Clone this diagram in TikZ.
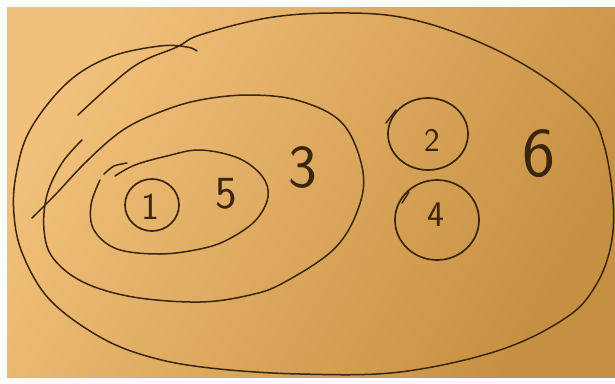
\documentclass[tikz,border=0pt]{standalone}
\usetikzlibrary{shapes.geometric}
\definecolor{ink}{HTML}{3A250E}
\definecolor{paperA}{HTML}{F1C07A}
\definecolor{paperB}{HTML}{C69042}
\tikzset{
  pen/.style={draw=ink, line width=1.5pt, line cap=round, line join=round},
  ring/.style={ellipse, draw=ink, line width=1.7pt, inner sep=0pt},
  digit/.style={text=ink, inner sep=0pt, font=\sffamily},
}
\begin{document}
\begin{tikzpicture}[x=1pt,y=-1pt]
\useasboundingbox (0,0) rectangle (615,383);
\fill[white] (0,0) rectangle (615,383);
\shade[left color=paperA, right color=paperB, shading angle=60] (7,7) rectangle (615,377);
% outer shape (set 6)
\draw[pen] plot[smooth, tension=0.6] coordinates {(197,51) (187,47) (160,46) (110,57) (67,83) (30,130) (16,175) (14,215) (23,255) (50,300) (100,337) (150,357) (210,368) (300,374) (400,372) (500,350) (567,317) (596,285) (611,245) (613,200) (604,145) (587,112) (533,70) (467,37) (400,17) (333,13) (267,18) (200,35) (177,47) (133,67) (78,115)};
% middle shape (set 3)
\draw[pen] plot[smooth, tension=0.6] coordinates {(82,140) (62,163) (47,195) (44,230) (53,258) (83,282) (133,297) (200,302) (250,295) (283,283) (333,250) (357,212) (363,172) (343,124) (300,101) (250,95) (200,100) (160,112) (123,130) (88,160) (55,195) (32,218)};
% inner shape (set 5)
\draw[pen] plot[smooth, tension=0.6] coordinates {(100,180) (91,205) (94,230) (117,249) (160,254) (200,249) (227,240) (255,221) (268,197) (262,176) (238,158) (200,150) (167,156) (135,165) (115,176)};
\draw[pen] plot[smooth] coordinates {(104,174) (114,166) (127,163)};
% small circles
\node[ring, minimum width=54pt, minimum height=52pt] (c1) at (152,205) {};
\node[ring, minimum width=80pt, minimum height=72pt] (c2) at (428,134) {};
\node[ring, minimum width=84pt, minimum height=80pt] (c4) at (437,220) {};
\coordinate (t2a) at (386,123); \coordinate (t2b) at (396,110);
\coordinate (t4a) at (402,203); \coordinate (t4b) at (409,192);
\draw[pen] (t2a) -- (t2b);
\draw[pen] (t4a) -- (t4b);
% labels
\node[digit, font=\sffamily\fontsize{38}{38}\selectfont] (l1) at (150,207) {1};
\node[digit, font=\sffamily\fontsize{46}{46}\selectfont] (l5) at (226,194) {5};
\node[digit, font=\sffamily\fontsize{61}{61}\selectfont] (l3) at (303,167) {3};
\node[digit, font=\sffamily\fontsize{33}{33}\selectfont] (l2) at (432,140) {2};
\node[digit, font=\sffamily\fontsize{36}{36}\selectfont] (l4) at (436,215) {4};
\node[digit, font=\sffamily\fontsize{70}{70}\selectfont] (l6) at (539,154) {6};
\end{tikzpicture}
\end{document}
